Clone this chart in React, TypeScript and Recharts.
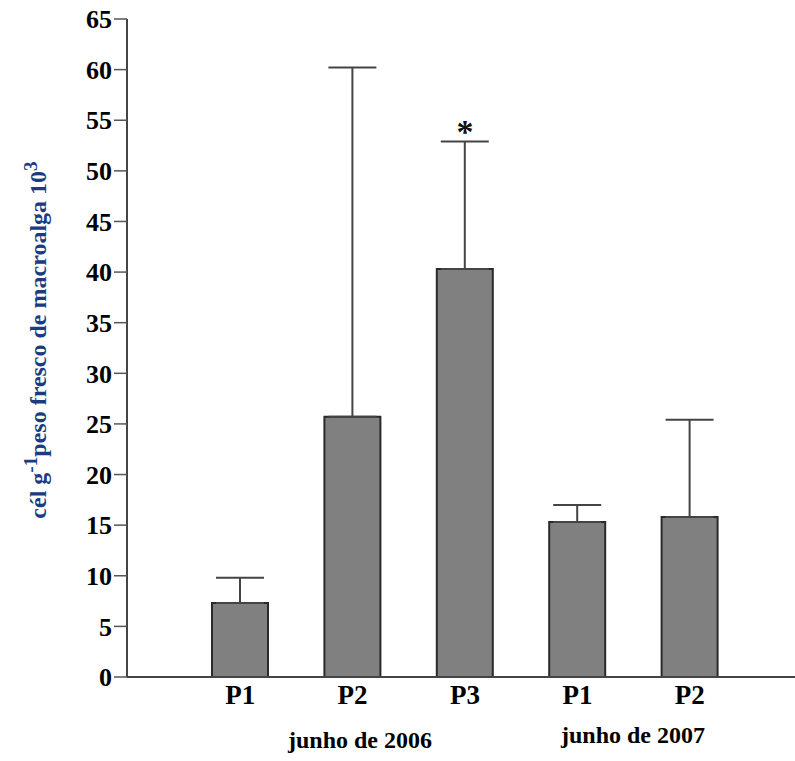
import { Bar, ComposedChart, ErrorBar, Scatter, XAxis, YAxis } from "recharts";

// groups / sites
const keys = ["2006-P1", "2006-P2", "2006-P3", "2007-P1", "2007-P2"];
const means = [7.3, 25.7, 40.3, 15.3, 15.8];
const upper = [9.8, 60.2, 52.9, 17.0, 25.4];
const marks = ["", "", "*", "", ""];
const yTicks = [0, 5, 10, 15, 20, 25, 30, 35, 40, 45, 50, 55, 60, 65];
const groups = ["junho de 2006", "junho de 2007"];

const rows = keys.map((key, i) => ({
  key,
  mean: means[i],
  err: [0, +(upper[i] - means[i]).toFixed(2)],
  top: upper[i],
  mark: marks[i],
}));

const FONT = '"Liberation Serif", "Times New Roman", serif';

function Star(props: any) {
  const { cx, cy, payload } = props;
  if (!payload?.mark) return <g />;
  return (
    <text
      x={cx}
      y={cy + 2}
      textAnchor="middle"
      fontFamily={FONT}
      fontWeight="bold"
      fontSize={34}
      fill="#111"
    >
      {payload.mark}
    </text>
  );
}

export default function App() {
  return (
    <div style={{ position: "absolute", left: 0, top: 0, width: 795, height: 761, background: "#fff" }}>
      <ComposedChart
        width={795}
        height={761}
        data={rows}
        margin={{ top: 19, right: 0, bottom: 54, left: 0 }}
      >
        <XAxis
          dataKey="key"
          height={30}
          tickLine={false}
          padding={{ left: 57, right: 49 }}
          axisLine={{ stroke: "#444", strokeWidth: 2 }}
          tickFormatter={(v: string) => v.split("-")[1]}
          tick={{ fontFamily: FONT, fontWeight: "bold", fontSize: 27, fill: "#000" }}
        />
        <YAxis
          width={127}
          domain={[0, 65]}
          ticks={yTicks}
          interval={0}
          tickSize={13}
          tickMargin={2}
          axisLine={{ stroke: "#444", strokeWidth: 2 }}
          tickLine={{ stroke: "#555", strokeWidth: 1.5 }}
          tick={{ fontFamily: FONT, fontWeight: "bold", fontSize: 26, fill: "#000" }}
        />
        <Bar
          dataKey="mean"
          barSize={56}
          fill="#808080"
          stroke="#2a2a2a"
          strokeWidth={2}
          isAnimationActive={false}
        >
          <ErrorBar dataKey="err" width={24} stroke="#444" strokeWidth={2} direction="y" />
        </Bar>
        <Scatter dataKey="top" shape={<Star />} isAnimationActive={false} />
      </ComposedChart>
      <svg
        width={795}
        height={761}
        style={{ position: "absolute", left: 0, top: 0, pointerEvents: "none" }}
      >
        <text
          transform="rotate(-90, 46, 340)"
          x={46}
          y={340}
          textAnchor="middle"
          fontFamily={FONT}
          fontWeight="bold"
          fontSize={24}
          fill="#1b3c82"
        >
          cél g
          <tspan dy="-0.45em" fontSize="0.8em">-1</tspan>
          <tspan dy="0.36em">peso fresco de macroalga 10</tspan>
          <tspan dy="-0.45em" fontSize="0.8em">3</tspan>
        </text>
        <text x={360} y={748} textAnchor="middle" fontFamily={FONT} fontWeight="bold" fontSize={24} fill="#000">
          {groups[0]}
        </text>
        <text x={633} y={743} textAnchor="middle" fontFamily={FONT} fontWeight="bold" fontSize={24} fill="#000">
          {groups[1]}
        </text>
      </svg>
    </div>
  );
}
